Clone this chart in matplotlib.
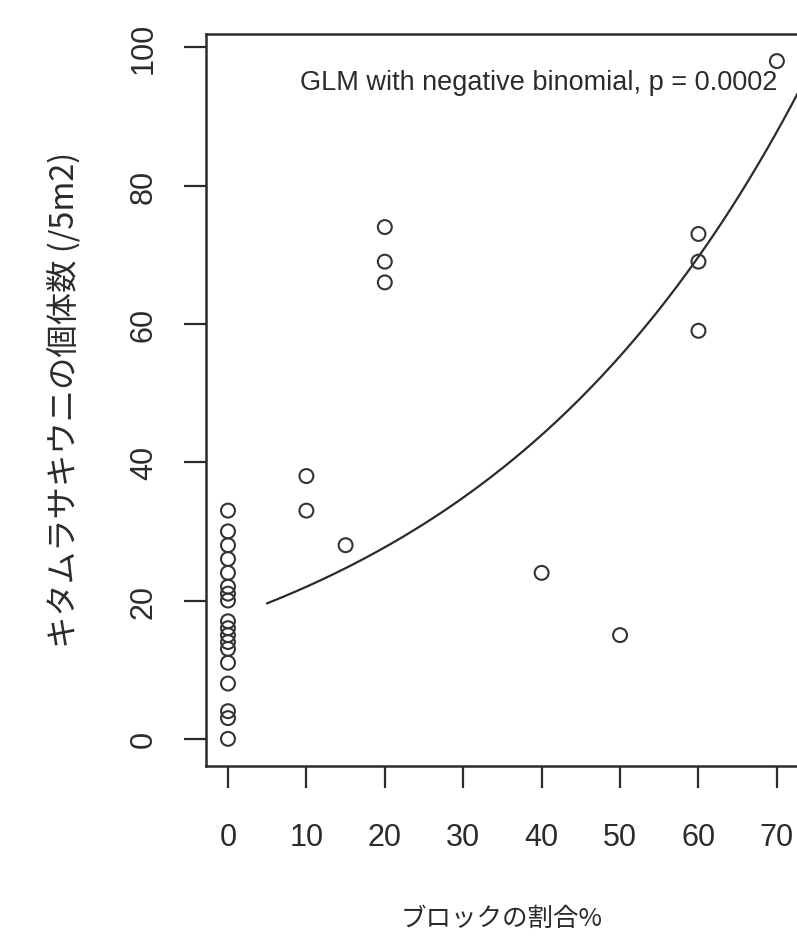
import numpy as np
import matplotlib
matplotlib.use("Agg")
import matplotlib.pyplot as plt

# block cover (%) and sea urchin counts per 5 m2
block_pct = [0] * 18 + [10, 10, 15, 20, 20, 20, 40, 50, 60, 60, 60, 70]
urchin_count = [33, 30, 28, 26, 24, 22, 21, 20, 17, 16, 15, 14, 13, 11, 8, 4, 3, 0,
                38, 33, 28, 74, 69, 66, 24, 15, 73, 69, 59, 98]

# fitted negative binomial GLM (log link), coefficients
glm_intercept = 2.860
glm_slope = 0.02307
curve_x_start = 5
curve_x_end = 75

x_ticks = [0, 10, 20, 30, 40, 50, 60, 70]
y_ticks = [0, 20, 40, 60, 80, 100]

NUM_FONT = ["Liberation Sans", "DejaVu Sans"]
JP_FONT = ["Noto Sans CJK JP", "DejaVu Sans"]
INK = "#2b2b2b"


def main():
    fig = plt.figure(figsize=(7.97, 9.45), dpi=100)
    ax = fig.add_axes([0.2585, 0.1884, 0.7438, 0.7746])

    ax.scatter(block_pct, urchin_count, s=100, facecolors="none",
               edgecolors="#333333", linewidths=1.5, zorder=3)

    xs = np.linspace(curve_x_start, curve_x_end, 200)
    ax.plot(xs, np.exp(glm_intercept + glm_slope * xs), color=INK, lw=1.6)

    ax.set_xlim(-2.8, 72.8)
    ax.set_ylim(-3.92, 101.92)
    ax.set_xticks(x_ticks)
    ax.set_yticks(y_ticks)
    ax.set_xticklabels([str(v) for v in x_ticks], family=NUM_FONT, fontsize=22, color=INK)
    ax.set_yticklabels([str(v) for v in y_ticks], family=NUM_FONT, fontsize=22, color=INK,
                       rotation=90, va="center")
    ax.tick_params(axis="both", direction="out", length=16, width=1.6, color=INK)
    ax.tick_params(axis="x", pad=24)
    ax.tick_params(axis="y", pad=18)
    for sp in ax.spines.values():
        sp.set_linewidth(1.8)
        sp.set_color(INK)

    ax.text(0.963, 0.934, "GLM with negative binomial, p = 0.0002", transform=ax.transAxes,
            ha="right", va="center", family=NUM_FONT, fontsize=19.5, color=INK)

    fig.text(0.630, 0.0275, "ブロックの割合%", family=JP_FONT, fontsize=18.4,
             ha="center", va="center", color=INK)
    fig.text(0.080, 0.577, "キタムラサキウニの個体数 (/5m2)", family=JP_FONT, fontsize=23.3,
             ha="center", va="center", rotation=90, color=INK)

    fig.savefig("out.png", dpi=100)
    plt.close(fig)


if __name__ == "__main__":
    main()
